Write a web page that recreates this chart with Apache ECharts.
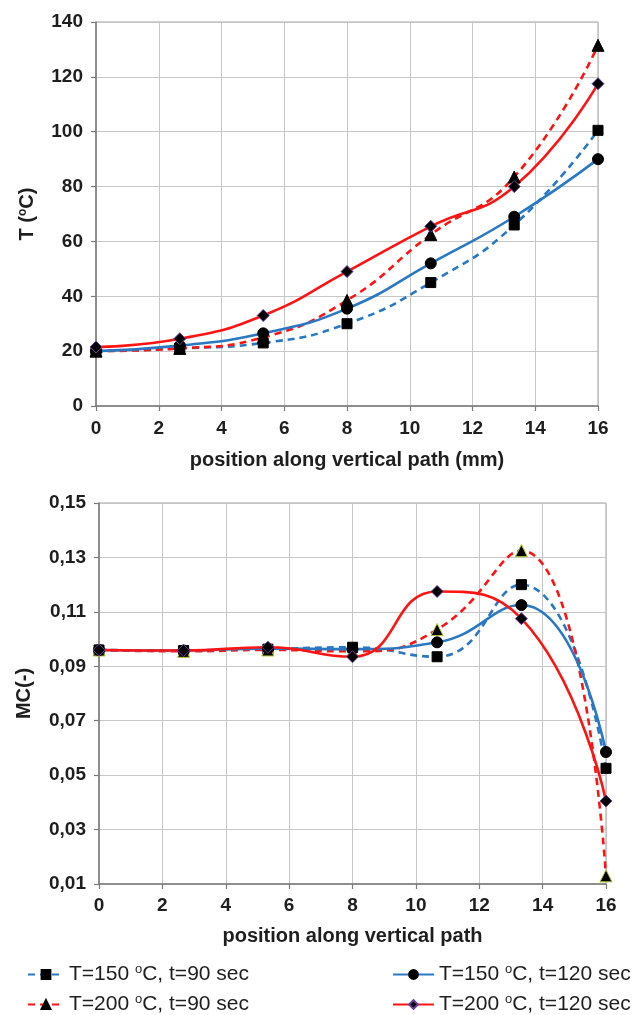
<!DOCTYPE html>
<html>
<head>
<meta charset="utf-8">
<script src="https://cdn.jsdelivr.net/npm/echarts@6/dist/echarts.min.js"></script>
<style>
html,body{margin:0;padding:0;background:#fff;}
#c{width:642px;height:1015px;}
</style>
</head>
<body>
<div id="c"></div>
<script>
// ---- data ----
const positions = [0, 2.67, 5.33, 8, 10.67, 13.33, 16];
const seriesNames = ['T=150 oC, t=90 sec', 'T=200 oC, t=90 sec', 'T=150 oC, t=120 sec', 'T=200 oC, t=120 sec'];
// Temperature (°C)
const T_150_90  = [20, 21, 23, 30, 45, 66, 100.5];
const T_150_120 = [20, 22, 26.5, 35.5, 52, 69, 90];
const T_200_90  = [20, 21, 25, 38.5, 62.5, 83.5, 131.5];
const T_200_120 = [21.5, 24.5, 33, 49, 65.5, 80, 117.5];
// Moisture content (-)
const MC_150_90  = [0.096, 0.0958, 0.0963, 0.0970, 0.0935, 0.1200, 0.0525];
const MC_150_120 = [0.096, 0.0958, 0.0965, 0.0963, 0.0988, 0.1125, 0.0585];
const MC_200_90  = [0.096, 0.0955, 0.0960, 0.0955, 0.1035, 0.1325, 0.0130];
const MC_200_120 = [0.096, 0.0958, 0.0970, 0.0935, 0.1175, 0.1075, 0.0405];
const xTicks = [0, 2, 4, 6, 8, 10, 12, 14, 16];

const BLUE = '#2A78C2', RED = '#FF1414';
const pair = (ys) => positions.map((x, i) => [x, ys[i]]);

const styles = {
  'T=150 oC, t=90 sec':  {color: BLUE, type: [7, 5], symbol: 'rect', size: 10, border: '#000'},
  'T=200 oC, t=90 sec':  {color: RED, type: [7, 5], symbol: 'triangle', size: 12, border: '#000'},
  'T=150 oC, t=120 sec': {color: BLUE, type: 'solid', symbol: 'circle', size: 11, border: '#000'},
  'T=200 oC, t=120 sec': {color: RED, type: 'solid', symbol: 'diamond', size: 12, border: '#6a3d9a'}
};
const topData = {
  'T=150 oC, t=90 sec': T_150_90, 'T=200 oC, t=90 sec': T_200_90,
  'T=150 oC, t=120 sec': T_150_120, 'T=200 oC, t=120 sec': T_200_120
};
const botData = {
  'T=150 oC, t=90 sec': MC_150_90, 'T=200 oC, t=90 sec': MC_200_90,
  'T=150 oC, t=120 sec': MC_150_120, 'T=200 oC, t=120 sec': MC_200_120
};
const drawOrder = ['T=150 oC, t=90 sec', 'T=200 oC, t=90 sec', 'T=150 oC, t=120 sec', 'T=200 oC, t=120 sec'];

function mk(name, data, gi, triBorder) {
  const s = styles[name];
  return {
    name, type: 'line', xAxisIndex: gi, yAxisIndex: gi,
    data: pair(data), smooth: 0.5,
    symbol: s.symbol, symbolSize: s.size,
    lineStyle: {color: s.color, width: 2.6, type: s.type},
    itemStyle: {color: '#000', borderColor: (s.symbol === 'triangle' && triBorder) ? triBorder : s.border, borderWidth: 1},
    emphasis: {disabled: true}, z: 3
  };
}
const series = [];
drawOrder.forEach(n => series.push(mk(n, topData[n], 0, null)));
drawOrder.forEach(n => series.push(mk(n, botData[n], 1, '#b5c430')));

const FONT = '"Liberation Sans", Arial, sans-serif';
const TXT = '#1e1e1e';
const tickLbl = {color: TXT, fontFamily: FONT, fontWeight: 'bold', fontSize: 19};
const gridLine = {show: true, lineStyle: {color: '#c6c6c6', width: 1}};
const axLine = {show: true, lineStyle: {color: '#7a7a7a', width: 1.5}};
const tick = {show: true, length: 5, lineStyle: {color: '#7a7a7a', width: 1.2}};
const nameStyle = {fontFamily: FONT, fontWeight: 'bold', fontSize: 20, color: TXT};
const supRich = {sup: {fontSize: 12, fontWeight: 'bold', fontFamily: FONT, color: TXT, padding: [0, 0, 9, 0]}};

const legendRich = {
  sup: {fontSize: 13, fontFamily: FONT, color: TXT, padding: [0, 0, 10, 0], lineHeight: 24},
  n: {fontSize: 21, fontFamily: FONT, color: TXT, lineHeight: 24}
};
const legendFmt = (name) => {
  const parts = name.split(' oC');
  return '{n|' + parts[0] + ' }{sup|o}{n|C' + parts[1] + '}';
};
function leg(name, left, top, w) {
  return {data: [name], left, top, itemWidth: w, itemHeight: 11, padding: 0,
    formatter: legendFmt, textStyle: {rich: legendRich}, selectedMode: false};
}

const option = {
  backgroundColor: '#fff',
  animation: false,
  grid: [
    {left: 96, right: 44, top: 22, height: 384, show: true, borderColor: '#a0a0a0', borderWidth: 1},
    {left: 99, right: 36, top: 503, height: 381, show: true, borderColor: '#a0a0a0', borderWidth: 1}
  ],
  xAxis: [
    {type: 'value', gridIndex: 0, min: xTicks[0], max: xTicks[xTicks.length-1], interval: 2,
     axisLine: axLine, axisTick: tick, splitLine: gridLine,
     axisLabel: Object.assign({margin: 13}, tickLbl),
     name: 'position along vertical path (mm)', nameLocation: 'middle', nameGap: 44,
     nameTextStyle: nameStyle},
    {type: 'value', gridIndex: 1, min: xTicks[0], max: xTicks[xTicks.length-1], interval: 2,
     axisLine: axLine, axisTick: tick, splitLine: gridLine,
     axisLabel: Object.assign({margin: 12}, tickLbl),
     name: 'position along vertical path', nameLocation: 'middle', nameGap: 42,
     nameTextStyle: nameStyle}
  ],
  yAxis: [
    {type: 'value', gridIndex: 0, min: 0, max: 140, interval: 20,
     axisLine: axLine, axisTick: tick, splitLine: gridLine,
     axisLabel: Object.assign({margin: 13}, tickLbl),
     name: 'T ({sup|o}C)', nameLocation: 'middle', nameGap: 58, nameRotate: 90,
     nameTextStyle: Object.assign({rich: supRich}, nameStyle)},
    {type: 'value', gridIndex: 1, min: 0.01, max: 0.15, interval: 0.02,
     axisLine: axLine, axisTick: tick, splitLine: gridLine,
     axisLabel: Object.assign({margin: 13, formatter: v => v.toFixed(2).replace('.', ',')}, tickLbl),
     name: 'MC(-)', nameLocation: 'middle', nameGap: 65, nameRotate: 90,
     nameTextStyle: nameStyle}
  ],
  legend: [
    leg(seriesNames[0], 27, 963, 36),
    leg(seriesNames[1], 27, 993, 36),
    leg(seriesNames[2], 392, 963, 41),
    leg(seriesNames[3], 392, 993, 41)
  ],
  series
};
const chart = echarts.init(document.getElementById('c'), null, {renderer: 'canvas'});
chart.setOption(option);
</script>
</body>
</html>
